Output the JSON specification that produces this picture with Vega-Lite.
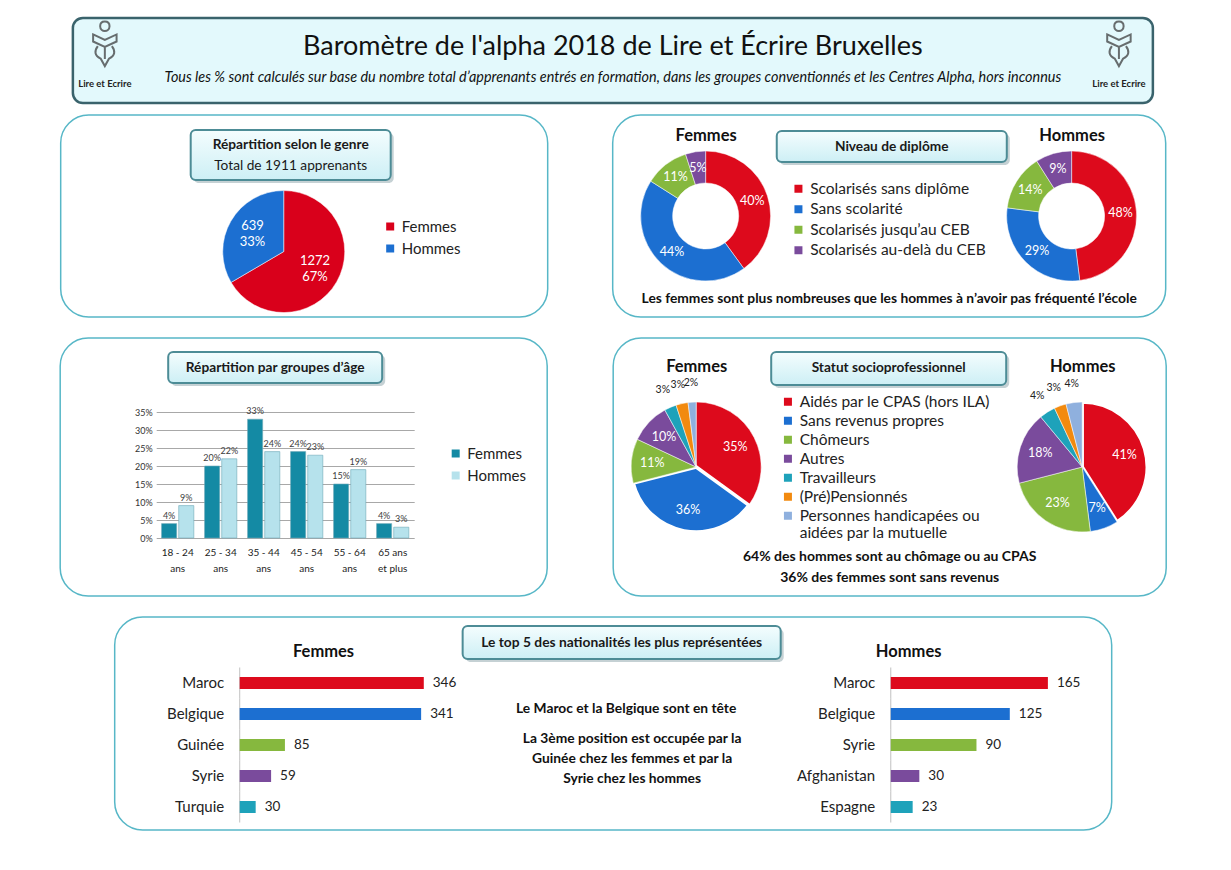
{
  "$schema": "https://vega.github.io/schema/vega-lite/v6.json",
  "background": "white",
  "padding": {"left": 59, "top": 16, "right": 5, "bottom": 5},
  "config": {
    "font": "Lato",
    "view": {"stroke": null},
    "legend": {"labelFontSize": 15.5, "labelColor": "#222222", "symbolType": "square", "symbolSize": 64, "rowPadding": 3.5, "labelLimit": 320, "symbolStrokeWidth": 0}
  },
  "resolve": {"scale": {"color": "independent"}, "legend": {"color": "independent"}},
  "spacing": 9,
  "center": true,
  "vconcat": [
    {
      "width": 1080,
      "height": 85,
      "view": {"fill": "#e3f9fc", "stroke": "#3a636c", "strokeWidth": 2.5, "cornerRadius": 10},
      "resolve": {"scale": {"x": "independent", "y": "independent"}},
      "layer": [
        {
          "data": {"values": [{"texte": "Baromètre de l'alpha 2018 de Lire et Écrire Bruxelles"}]},
          "mark": {"type": "text", "fontSize": 27, "color": "#111111"},
          "encoding": {
            "text": {"field": "texte"},
            "y": {"field": "texte", "type": "nominal", "axis": null, "scale": {"type": "point", "align": 0.341}}
          }
        },
        {
          "data": {"values": [{"texte": "Tous les % sont calculés sur base du nombre total d’apprenants entrés en formation, dans les groupes conventionnés et les Centres Alpha, hors inconnus"}]},
          "mark": {"type": "text", "fontSize": 14.4, "fontStyle": "italic", "color": "#111111"},
          "encoding": {
            "text": {"field": "texte"},
            "y": {"field": "texte", "type": "nominal", "axis": null, "scale": {"type": "point", "align": 0.706}}
          }
        },
        {
          "data": {"values": [{"logo": "Lire et Ecrire", "cote": "gauche"}, {"logo": "Lire et Ecrire", "cote": "droite"}]},
          "encoding": {
            "x": {"field": "cote", "type": "nominal", "sort": null, "axis": null, "scale": {"type": "point", "padding": 0.0325, "align": 0.485}}
          },
          "layer": [
            {
              "mark": {"type": "text", "fontSize": 9.5, "fontWeight": "bold", "color": "#222222"},
              "encoding": {
                "text": {"field": "logo"},
                "y": {"field": "logo", "type": "nominal", "axis": null, "scale": {"type": "point", "domain": ["icone", "Lire et Ecrire"], "padding": 0.59, "align": 0.587}}
              }
            },
            {
              "mark": {"type": "point", "filled": false, "stroke": "#333333", "strokeWidth": 2, "size": 2200, "shape": "M0,-1 C0.14,-1 0.2,-0.9 0.2,-0.8 C0.2,-0.68 0.1,-0.6 0,-0.6 C-0.1,-0.6 -0.2,-0.68 -0.2,-0.8 C-0.2,-0.9 -0.14,-1 0,-1 Z M-0.5,-0.45 L0,-0.22 L0.5,-0.45 L0.5,-0.15 L0,0.08 L-0.5,-0.15 Z M-0.3,0.05 C-0.45,0.25 -0.45,0.45 -0.18,0.58 L0,0.9 L0.18,0.58 C0.45,0.45 0.45,0.25 0.3,0.05 M0,0.08 L0,0.6"},
              "encoding": {
                "y": {"datum": "icone", "type": "nominal"}
              }
            }
          ]
        }
      ]
    },
    {
      "resolve": {"scale": {"color": "independent"}, "legend": {"color": "independent"}},
      "spacing": 19,
      "center": true,
      "vconcat": [
        {
          "resolve": {"scale": {"color": "independent"}, "legend": {"color": "independent"}},
          "spacing": 63,
          "hconcat": [
            {
              "width": 487,
              "height": 202,
              "view": {"fill": "white", "stroke": "#57b7c7", "strokeWidth": 1.5, "cornerRadius": 28},
              "resolve": {"scale": {"x": "independent", "y": "independent"}},
              "layer": [
                {
                  "data": {"values": [{"titre": "Répartition selon le genre"}]},
                  "mark": {"type": "rect", "fill": "#7f9aa0", "opacity": 0.45, "cornerRadius": 5},
                  "encoding": {
                    "x": {"field": "titre", "type": "nominal", "axis": null, "scale": {"paddingInner": 0, "paddingOuter": 0.7175, "align": 0.4635}},
                    "y": {"field": "titre", "type": "nominal", "axis": null, "scale": {"paddingInner": 0.3422, "paddingOuter": 1, "align": 0.1184}}
                  }
                },
                {
                  "data": {"values": [{"titre": "Répartition selon le genre", "sous_titre": "Total de 1911 apprenants"}]},
                  "encoding": {
                    "x": {"field": "titre", "type": "nominal", "axis": null, "scale": {"paddingInner": 0, "paddingOuter": 0.7175, "align": 0.453}},
                    "y": {"field": "titre", "type": "nominal", "axis": null, "scale": {"paddingInner": 0.3422, "paddingOuter": 1, "align": 0.0987}}
                  },
                  "layer": [
                    {"mark": {"type": "rect", "fill": {"gradient": "linear", "x1": 0, "y1": 0, "x2": 0, "y2": 1, "stops": [{"offset": 0, "color": "#f4fdfe"}, {"offset": 1, "color": "#cdeff5"}]}, "stroke": "#4d8c96", "strokeWidth": 2, "cornerRadius": 5}},
                    {"mark": {"type": "text", "fontSize": 13.7, "fontWeight": "bold", "color": "#1a1a1a", "dy": -10}, "encoding": {"text": {"field": "titre"}}},
                    {"mark": {"type": "text", "fontSize": 13.7, "color": "#1a1a1a", "dy": 11}, "encoding": {"text": {"field": "sous_titre"}}}
                  ]
                },
                {
                  "data": {"values": [{"sexe": "Femmes", "n": 1272, "pct": 0.67}, {"sexe": "Hommes", "n": 639, "pct": 0.33}]},
                  "encoding": {
                    "theta": {"field": "n", "type": "quantitative", "stack": true},
                    "order": {"field": "n", "type": "quantitative", "sort": "descending"},
                    "detail": {"field": "sexe"},
                    "x": {"datum": "genre", "type": "nominal", "axis": null, "scale": {"type": "point", "align": 0.458}},
                    "y": {"datum": "genre", "type": "nominal", "axis": null, "scale": {"type": "point", "align": 0.676}}
                  },
                  "layer": [
                    {
                      "mark": {"type": "arc", "outerRadius": 61, "stroke": "#ffffff", "strokeWidth": 0.5},
                      "encoding": {
                        "color": {"field": "sexe", "type": "nominal", "scale": {"domain": ["Femmes", "Hommes"], "range": ["#d9001b", "#1c6fd1"]}, "legend": {"title": null, "orient": "none", "legendX": 322, "legendY": 104, "rowPadding": 6, "labelFontSize": 15}}
                      }
                    },
                    {"mark": {"type": "text", "radius": 36, "dy": -8, "color": "white", "fontSize": 13}, "encoding": {"text": {"field": "n", "type": "quantitative", "format": "d"}}},
                    {"mark": {"type": "text", "radius": 36, "dy": 8, "color": "white", "fontSize": 13}, "encoding": {"text": {"field": "pct", "type": "quantitative", "format": ".0%"}}}
                  ]
                }
              ]
            },
            {
              "width": 553,
              "height": 202,
              "view": {"fill": "white", "stroke": "#57b7c7", "strokeWidth": 1.5, "cornerRadius": 28},
              "resolve": {"scale": {"x": "independent", "y": "independent"}},
              "layer": [
                {
                  "data": {"values": [{"titre": "Niveau de diplôme"}]},
                  "mark": {"type": "rect", "fill": "#7f9aa0", "opacity": 0.45, "cornerRadius": 5},
                  "encoding": {
                    "x": {"field": "titre", "type": "nominal", "axis": null, "scale": {"paddingInner": 0, "paddingOuter": 0.702, "align": 0.5173}},
                    "y": {"field": "titre", "type": "nominal", "axis": null, "scale": {"paddingInner": 0.6373, "paddingOuter": 1, "align": 0.1111}}
                  }
                },
                {
                  "data": {"values": [{"titre": "Niveau de diplôme"}]},
                  "encoding": {
                    "x": {"field": "titre", "type": "nominal", "axis": null, "scale": {"paddingInner": 0, "paddingOuter": 0.702, "align": 0.508}},
                    "y": {"field": "titre", "type": "nominal", "axis": null, "scale": {"paddingInner": 0.6373, "paddingOuter": 1, "align": 0.0936}}
                  },
                  "layer": [
                    {"mark": {"type": "rect", "fill": {"gradient": "linear", "x1": 0, "y1": 0, "x2": 0, "y2": 1, "stops": [{"offset": 0, "color": "#f4fdfe"}, {"offset": 1, "color": "#cdeff5"}]}, "stroke": "#4d8c96", "strokeWidth": 2, "cornerRadius": 5}},
                    {"mark": {"type": "text", "fontSize": 13.7, "fontWeight": "bold", "color": "#1a1a1a"}, "encoding": {"text": {"field": "titre"}}}
                  ]
                },
                {
                  "data": {"values": [{"note": "Les femmes sont plus nombreuses que les hommes à n’avoir pas fréquenté l’école"}]},
                  "mark": {"type": "text", "fontSize": 13.8, "fontWeight": "bold", "color": "#111111"},
                  "encoding": {
                    "text": {"field": "note"},
                    "y": {"field": "note", "type": "nominal", "axis": null, "scale": {"type": "point", "align": 0.911}}
                  }
                },
                {
                  "data": {"values": [
                    {"sexe": "Femmes", "categorie": "Scolarisés sans diplôme", "rang": 1, "pct": 0.40},
                    {"sexe": "Femmes", "categorie": "Sans scolarité", "rang": 2, "pct": 0.44},
                    {"sexe": "Femmes", "categorie": "Scolarisés jusqu’au CEB", "rang": 3, "pct": 0.11},
                    {"sexe": "Femmes", "categorie": "Scolarisés au-delà du CEB", "rang": 4, "pct": 0.05},
                    {"sexe": "Hommes", "categorie": "Scolarisés sans diplôme", "rang": 1, "pct": 0.48},
                    {"sexe": "Hommes", "categorie": "Sans scolarité", "rang": 2, "pct": 0.29},
                    {"sexe": "Hommes", "categorie": "Scolarisés jusqu’au CEB", "rang": 3, "pct": 0.14},
                    {"sexe": "Hommes", "categorie": "Scolarisés au-delà du CEB", "rang": 4, "pct": 0.09}
                  ]},
                  "encoding": {
                    "x": {"field": "sexe", "type": "nominal", "scale": {"type": "point", "domain": ["Femmes", "Hommes"], "padding": 0.2555, "align": 0.497}, "axis": {"orient": "top", "offset": -28, "title": null, "domain": false, "ticks": false, "labelPadding": 0, "labelFontSize": 16.5, "labelFontWeight": "bold", "labelColor": "#111111", "labelAngle": 0}},
                    "theta": {"field": "pct", "type": "quantitative", "stack": true},
                    "order": {"field": "rang", "type": "quantitative"},
                    "detail": {"field": "categorie"}
                  },
                  "layer": [
                    {
                      "transform": [{"filter": {"field": "sexe", "equal": "Femmes"}}],
                      "layer": [
                        {"mark": {"type": "arc", "outerRadius": 65, "innerRadius": 33, "stroke": "#ffffff", "strokeWidth": 0.5},
                         "encoding": {"color": {"field": "categorie", "type": "nominal", "scale": {"domain": ["Scolarisés sans diplôme", "Sans scolarité", "Scolarisés jusqu’au CEB", "Scolarisés au-delà du CEB"], "range": ["#dd0a1c", "#1c6fd1", "#86b83e", "#7a4b9c"]}, "legend": {"title": null, "orient": "none", "legendX": 178, "legendY": 66}}}},
                        {"mark": {"type": "text", "radius": 49, "color": "white", "fontSize": 12.5}, "encoding": {"text": {"field": "pct", "type": "quantitative", "format": ".0%"}}}
                      ]
                    },
                    {
                      "transform": [{"filter": {"field": "sexe", "equal": "Hommes"}}],
                      "layer": [
                        {"mark": {"type": "arc", "outerRadius": 65, "innerRadius": 33, "stroke": "#ffffff", "strokeWidth": 0.5},
                         "encoding": {"color": {"field": "categorie", "type": "nominal", "scale": {"domain": ["Scolarisés sans diplôme", "Sans scolarité", "Scolarisés jusqu’au CEB", "Scolarisés au-delà du CEB"], "range": ["#dd0a1c", "#1c6fd1", "#86b83e", "#7a4b9c"]}, "legend": {"title": null, "orient": "none", "legendX": 178, "legendY": 66}}}},
                        {"mark": {"type": "text", "radius": 49, "color": "white", "fontSize": 12.5}, "encoding": {"text": {"field": "pct", "type": "quantitative", "format": ".0%"}}}
                      ]
                    }
                  ]
                }
              ]
            }
          ]
        },
        {
          "resolve": {"scale": {"color": "independent"}, "legend": {"color": "independent"}},
          "spacing": 63,
          "hconcat": [
            {
              "width": 487,
              "height": 258,
              "view": {"fill": "white", "stroke": "#57b7c7", "strokeWidth": 1.5, "cornerRadius": 28},
              "resolve": {"scale": {"x": "independent", "y": "independent"}},
              "layer": [
                {
                  "data": {"values": [{"titre": "Répartition par groupes d’âge"}]},
                  "mark": {"type": "rect", "fill": "#7f9aa0", "opacity": 0.45, "cornerRadius": 5},
                  "encoding": {
                    "x": {"field": "titre", "type": "nominal", "axis": null, "scale": {"paddingInner": 0, "paddingOuter": 0.638, "align": 0.4066}},
                    "y": {"field": "titre", "type": "nominal", "axis": null, "scale": {"paddingInner": 0.7268, "paddingOuter": 1, "align": 0.0749}}
                  }
                },
                {
                  "data": {"values": [{"titre": "Répartition par groupes d’âge"}]},
                  "encoding": {
                    "x": {"field": "titre", "type": "nominal", "axis": null, "scale": {"paddingInner": 0, "paddingOuter": 0.638, "align": 0.3956}},
                    "y": {"field": "titre", "type": "nominal", "axis": null, "scale": {"paddingInner": 0.7268, "paddingOuter": 1, "align": 0.0617}}
                  },
                  "layer": [
                    {"mark": {"type": "rect", "fill": {"gradient": "linear", "x1": 0, "y1": 0, "x2": 0, "y2": 1, "stops": [{"offset": 0, "color": "#f4fdfe"}, {"offset": 1, "color": "#cdeff5"}]}, "stroke": "#4d8c96", "strokeWidth": 2, "cornerRadius": 5}},
                    {"mark": {"type": "text", "fontSize": 13.7, "fontWeight": "bold", "color": "#1a1a1a"}, "encoding": {"text": {"field": "titre"}}}
                  ]
                },
                {
                  "data": {"values": [
                    {"age": "18 - 24 ans", "sexe": "Femmes", "pct": 0.04},
                    {"age": "18 - 24 ans", "sexe": "Hommes", "pct": 0.09},
                    {"age": "25 - 34 ans", "sexe": "Femmes", "pct": 0.20},
                    {"age": "25 - 34 ans", "sexe": "Hommes", "pct": 0.22},
                    {"age": "35 - 44 ans", "sexe": "Femmes", "pct": 0.33},
                    {"age": "35 - 44 ans", "sexe": "Hommes", "pct": 0.24},
                    {"age": "45 - 54 ans", "sexe": "Femmes", "pct": 0.24},
                    {"age": "45 - 54 ans", "sexe": "Hommes", "pct": 0.23},
                    {"age": "55 - 64 ans", "sexe": "Femmes", "pct": 0.15},
                    {"age": "55 - 64 ans", "sexe": "Hommes", "pct": 0.19},
                    {"age": "65 ans et plus", "sexe": "Femmes", "pct": 0.04},
                    {"age": "65 ans et plus", "sexe": "Hommes", "pct": 0.03}
                  ]},
                  "encoding": {
                    "x": {"field": "age", "type": "nominal", "sort": null, "scale": {"range": [96, 354], "paddingInner": 0.25, "paddingOuter": 0.125}, "axis": {"orient": "bottom", "offset": -58, "title": null, "domain": false, "ticks": false, "labelPadding": 9, "labelAngle": 0, "labelFontSize": 10, "labelLineHeight": 16, "labelColor": "#222222", "labelExpr": "datum.label == '65 ans et plus' ? ['65 ans', 'et plus'] : [replace(datum.label, ' ans', ''), 'ans']"}},
                    "xOffset": {"field": "sexe", "type": "nominal", "scale": {"paddingInner": 0.12}},
                    "y": {"field": "pct", "type": "quantitative", "scale": {"domain": [-0.1611, 0.5556], "nice": false, "zero": false}, "axis": {"orient": "left", "offset": -96, "title": null, "values": [0, 0.05, 0.1, 0.15, 0.2, 0.25, 0.3, 0.35], "format": ".0%", "grid": false, "domain": false, "tickSize": -258, "tickColor": "#a8a8a8", "tickWidth": 1, "labelPadding": 262, "labelFontSize": 9, "labelColor": "#333333"}}
                  },
                  "layer": [
                    {"mark": {"type": "bar", "stroke": "#6fa9b9", "strokeWidth": 0.6},
                     "encoding": {"color": {"field": "sexe", "type": "nominal", "scale": {"domain": ["Femmes", "Hommes"], "range": ["#148aa4", "#b6e2ec"]}, "legend": {"title": null, "orient": "none", "legendX": 388, "legendY": 108, "rowPadding": 6, "labelFontSize": 15}}}},
                    {"mark": {"type": "text", "baseline": "bottom", "dy": -3, "fontSize": 9, "color": "#404040"}, "encoding": {"text": {"field": "pct", "type": "quantitative", "format": ".0%"}}}
                  ]
                }
              ]
            },
            {
              "width": 553,
              "height": 258,
              "view": {"fill": "white", "stroke": "#57b7c7", "strokeWidth": 1.5, "cornerRadius": 28},
              "resolve": {"scale": {"x": "independent", "y": "independent"}},
              "layer": [
                {
                  "data": {"values": [{"titre": "Statut socioprofessionnel"}]},
                  "mark": {"type": "rect", "fill": "#7f9aa0", "opacity": 0.45, "cornerRadius": 5},
                  "encoding": {
                    "x": {"field": "titre", "type": "nominal", "axis": null, "scale": {"paddingInner": 0, "paddingOuter": 0.6766, "align": 0.5063}},
                    "y": {"field": "titre", "type": "nominal", "axis": null, "scale": {"paddingInner": 0.7067, "paddingOuter": 1, "align": 0.0755}}
                  }
                },
                {
                  "data": {"values": [{"titre": "Statut socioprofessionnel"}]},
                  "encoding": {
                    "x": {"field": "titre", "type": "nominal", "axis": null, "scale": {"paddingInner": 0, "paddingOuter": 0.6766, "align": 0.4969}},
                    "y": {"field": "titre", "type": "nominal", "axis": null, "scale": {"paddingInner": 0.7067, "paddingOuter": 1, "align": 0.0622}}
                  },
                  "layer": [
                    {"mark": {"type": "rect", "fill": {"gradient": "linear", "x1": 0, "y1": 0, "x2": 0, "y2": 1, "stops": [{"offset": 0, "color": "#f4fdfe"}, {"offset": 1, "color": "#cdeff5"}]}, "stroke": "#4d8c96", "strokeWidth": 2, "cornerRadius": 5}},
                    {"mark": {"type": "text", "fontSize": 13.7, "fontWeight": "bold", "color": "#1a1a1a"}, "encoding": {"text": {"field": "titre"}}}
                  ]
                },
                {
                  "data": {"values": [{"note": "64% des hommes sont au chômage ou au CPAS\n36% des femmes sont sans revenus"}]},
                  "mark": {"type": "text", "fontSize": 14, "fontWeight": "bold", "color": "#111111", "lineBreak": "\n", "lineHeight": 21},
                  "encoding": {
                    "text": {"field": "note"},
                    "y": {"field": "note", "type": "nominal", "axis": null, "scale": {"type": "point", "align": 0.849}}
                  }
                },
                {
                  "data": {"values": [
                    {"sexe": "Femmes", "categorie": "Aidés par le CPAS (hors ILA)", "rang": 1, "pct": 0.35},
                    {"sexe": "Femmes", "categorie": "Sans revenus propres", "rang": 2, "pct": 0.36},
                    {"sexe": "Femmes", "categorie": "Chômeurs", "rang": 3, "pct": 0.11},
                    {"sexe": "Femmes", "categorie": "Autres", "rang": 4, "pct": 0.10},
                    {"sexe": "Femmes", "categorie": "Travailleurs", "rang": 5, "pct": 0.03},
                    {"sexe": "Femmes", "categorie": "(Pré)Pensionnés", "rang": 6, "pct": 0.03},
                    {"sexe": "Femmes", "categorie": "Personnes handicapées ou aidées par la mutuelle", "rang": 7, "pct": 0.02},
                    {"sexe": "Hommes", "categorie": "Aidés par le CPAS (hors ILA)", "rang": 1, "pct": 0.41},
                    {"sexe": "Hommes", "categorie": "Sans revenus propres", "rang": 2, "pct": 0.07},
                    {"sexe": "Hommes", "categorie": "Chômeurs", "rang": 3, "pct": 0.23},
                    {"sexe": "Hommes", "categorie": "Autres", "rang": 4, "pct": 0.18},
                    {"sexe": "Hommes", "categorie": "Travailleurs", "rang": 5, "pct": 0.04},
                    {"sexe": "Hommes", "categorie": "(Pré)Pensionnés", "rang": 6, "pct": 0.03},
                    {"sexe": "Hommes", "categorie": "Personnes handicapées ou aidées par la mutuelle", "rang": 7, "pct": 0.04}
                  ]},
                  "encoding": {
                    "x": {"field": "sexe", "type": "nominal", "scale": {"type": "point", "domain": ["Femmes", "Hommes"], "padding": 0.2163, "align": 0.497}, "axis": {"orient": "top", "offset": -36, "title": null, "domain": false, "ticks": false, "labelPadding": 0, "labelFontSize": 16.5, "labelFontWeight": "bold", "labelColor": "#111111", "labelAngle": 0}},
                    "theta": {"field": "pct", "type": "quantitative", "stack": true},
                    "order": {"field": "rang", "type": "quantitative"},
                    "detail": {"field": "categorie"}
                  },
                  "layer": [
                    {
                      "transform": [{"filter": {"field": "sexe", "equal": "Femmes"}}],
                      "layer": [
                        {"mark": {"type": "arc", "outerRadius": 65, "stroke": "#ffffff"},
                         "encoding": {
                           "strokeWidth": {"condition": {"test": "datum.rang == 2", "value": 3.5}, "value": 0.5},
                           "color": {"field": "categorie", "type": "nominal", "scale": {"domain": ["Aidés par le CPAS (hors ILA)", "Sans revenus propres", "Chômeurs", "Autres", "Travailleurs", "(Pré)Pensionnés", "Personnes handicapées ou aidées par la mutuelle"], "range": ["#dd0a1c", "#1c6fd1", "#86b83e", "#7a4b9c", "#1ea2ba", "#f28a0f", "#8fb0de"]}, "legend": {"title": null, "orient": "none", "legendX": 167, "legendY": 56, "rowPadding": 2, "labelExpr": "datum.label == 'Personnes handicapées ou aidées par la mutuelle' ? ['Personnes handicapées ou', 'aidées par la mutuelle'] : datum.label"}}}},
                        {"mark": {"type": "text", "radius": 44, "color": "white", "fontSize": 12.5}, "encoding": {"text": {"condition": {"test": "datum.pct >= 0.05", "field": "pct", "type": "quantitative", "format": ".0%"}, "value": ""}}},
                        {"mark": {"type": "text", "radius": 84, "color": "#222222", "fontSize": 10.5}, "encoding": {"text": {"condition": {"test": "datum.pct < 0.05", "field": "pct", "type": "quantitative", "format": ".0%"}, "value": ""}}}
                      ]
                    },
                    {
                      "transform": [{"filter": {"field": "sexe", "equal": "Hommes"}}],
                      "layer": [
                        {"mark": {"type": "arc", "outerRadius": 65, "stroke": "#ffffff"},
                         "encoding": {
                           "strokeWidth": {"condition": {"test": "datum.rang == 1", "value": 3.5}, "value": 0.5},
                           "color": {"field": "categorie", "type": "nominal", "scale": {"domain": ["Aidés par le CPAS (hors ILA)", "Sans revenus propres", "Chômeurs", "Autres", "Travailleurs", "(Pré)Pensionnés", "Personnes handicapées ou aidées par la mutuelle"], "range": ["#dd0a1c", "#1c6fd1", "#86b83e", "#7a4b9c", "#1ea2ba", "#f28a0f", "#8fb0de"]}, "legend": {"title": null, "orient": "none", "legendX": 167, "legendY": 56, "rowPadding": 2, "labelExpr": "datum.label == 'Personnes handicapées ou aidées par la mutuelle' ? ['Personnes handicapées ou', 'aidées par la mutuelle'] : datum.label"}}}},
                        {"mark": {"type": "text", "radius": 44, "color": "white", "fontSize": 12.5}, "encoding": {"text": {"condition": {"test": "datum.pct >= 0.05", "field": "pct", "type": "quantitative", "format": ".0%"}, "value": ""}}},
                        {"mark": {"type": "text", "radius": 84, "color": "#222222", "fontSize": 10.5}, "encoding": {"text": {"condition": {"test": "datum.pct < 0.05", "field": "pct", "type": "quantitative", "format": ".0%"}, "value": ""}}}
                      ]
                    }
                  ]
                }
              ]
            }
          ]
        },
        {
          "width": 997,
          "height": 213,
          "view": {"fill": "white", "stroke": "#57b7c7", "strokeWidth": 1.5, "cornerRadius": 28},
          "resolve": {"scale": {"x": "independent", "y": "independent"}},
          "layer": [
            {
              "data": {"values": [{"titre": "Le top 5 des nationalités les plus représentées"}]},
              "mark": {"type": "rect", "fill": "#7f9aa0", "opacity": 0.45, "cornerRadius": 5},
              "encoding": {
                "x": {"field": "titre", "type": "nominal", "axis": null, "scale": {"paddingInner": 0.0631, "paddingOuter": 1, "align": 0.5169}},
                "y": {"field": "titre", "type": "nominal", "axis": null, "scale": {"paddingInner": 0.6333, "paddingOuter": 1, "align": 0.0667}}
              }
            },
            {
              "data": {"values": [{"titre": "Le top 5 des nationalités les plus représentées"}]},
              "encoding": {
                "x": {"field": "titre", "type": "nominal", "axis": null, "scale": {"paddingInner": 0.0631, "paddingOuter": 1, "align": 0.5125}},
                "y": {"field": "titre", "type": "nominal", "axis": null, "scale": {"paddingInner": 0.6333, "paddingOuter": 1, "align": 0.05}}
              },
              "layer": [
                {"mark": {"type": "rect", "fill": {"gradient": "linear", "x1": 0, "y1": 0, "x2": 0, "y2": 1, "stops": [{"offset": 0, "color": "#f4fdfe"}, {"offset": 1, "color": "#cdeff5"}]}, "stroke": "#4d8c96", "strokeWidth": 2, "cornerRadius": 5}},
                {"mark": {"type": "text", "fontSize": 13.8, "fontWeight": "bold", "color": "#1a1a1a"}, "encoding": {"text": {"field": "titre"}}}
              ]
            },
            {
              "data": {"values": [{"sexe": "Femmes"}, {"sexe": "Hommes"}]},
              "mark": {"type": "text", "fontSize": 16.5, "fontWeight": "bold", "color": "#111111"},
              "encoding": {
                "text": {"field": "sexe"},
                "x": {"field": "sexe", "type": "nominal", "axis": null, "scale": {"type": "point", "padding": 0.352, "align": 0.507}},
                "y": {"datum": "titres", "type": "nominal", "axis": null, "scale": {"type": "point", "align": 0.165}}
              }
            },
            {
              "data": {"values": [{"note": "Le Maroc et la Belgique sont en tête"}]},
              "mark": {"type": "text", "fontSize": 13.8, "fontWeight": "bold", "color": "#111111"},
              "encoding": {
                "text": {"field": "note"},
                "x": {"datum": "notes", "type": "nominal", "axis": null, "scale": {"type": "point", "align": 0.513}},
                "y": {"field": "note", "type": "nominal", "axis": null, "scale": {"type": "point", "align": 0.432}}
              }
            },
            {
              "data": {"values": [{"note": "La 3ème position est occupée par la\nGuinée chez les femmes et par la\nSyrie chez les hommes"}]},
              "mark": {"type": "text", "fontSize": 13.8, "fontWeight": "bold", "color": "#111111", "lineBreak": "\n", "lineHeight": 20},
              "encoding": {
                "text": {"field": "note"},
                "x": {"datum": "notes", "type": "nominal", "axis": null, "scale": {"type": "point", "align": 0.519}},
                "y": {"field": "note", "type": "nominal", "axis": null, "scale": {"type": "point", "align": 0.573}}
              }
            },
            {
              "data": {"values": [
                {"pays": "Maroc", "n": 346, "rang": 1},
                {"pays": "Belgique", "n": 341, "rang": 2},
                {"pays": "Guinée", "n": 85, "rang": 3},
                {"pays": "Syrie", "n": 59, "rang": 4},
                {"pays": "Turquie", "n": 30, "rang": 5}
              ]},
              "encoding": {
                "y": {"field": "pays", "type": "nominal", "sort": {"field": "n", "order": "descending"}, "scale": {"range": [50.5, 205.5], "paddingInner": 0.613, "paddingOuter": 0.3065}, "axis": {"orient": "left", "offset": -125, "title": null, "domain": false, "ticks": false, "labelPadding": 16, "labelFontSize": 15, "labelColor": "#222222"}},
                "x": {"field": "n", "type": "quantitative", "scale": {"domain": [-235, 1639], "nice": false, "zero": false}, "axis": null}
              },
              "layer": [
                {"mark": {"type": "tick", "orient": "vertical", "size": 31, "thickness": 1, "color": "#a6a6a6"}, "encoding": {"x": {"datum": 0, "type": "quantitative"}}},
                {"mark": {"type": "bar"}, "encoding": {"color": {"field": "rang", "type": "ordinal", "scale": {"domain": [1, 2, 3, 4, 5], "range": ["#dd0a1c", "#1c6fd1", "#86b83e", "#7a4b9c", "#1ea2ba"]}, "legend": null}}},
                {"mark": {"type": "text", "align": "left", "dx": 9, "fontSize": 13.5, "color": "#222222"}, "encoding": {"text": {"field": "n", "type": "quantitative", "format": "d"}}}
              ]
            },
            {
              "data": {"values": [
                {"pays": "Maroc", "n": 165, "rang": 1},
                {"pays": "Belgique", "n": 125, "rang": 2},
                {"pays": "Syrie", "n": 90, "rang": 3},
                {"pays": "Afghanistan", "n": 30, "rang": 4},
                {"pays": "Espagne", "n": 23, "rang": 5}
              ]},
              "encoding": {
                "y": {"field": "pays", "type": "nominal", "sort": {"field": "n", "order": "descending"}, "scale": {"range": [50.5, 205.5], "paddingInner": 0.613, "paddingOuter": 0.3065}, "axis": {"orient": "left", "offset": -776, "title": null, "domain": false, "ticks": false, "labelPadding": 16, "labelFontSize": 15, "labelColor": "#222222"}},
                "x": {"field": "n", "type": "quantitative", "scale": {"domain": [-815, 232], "nice": false, "zero": false}, "axis": null}
              },
              "layer": [
                {"mark": {"type": "tick", "orient": "vertical", "size": 31, "thickness": 1, "color": "#a6a6a6"}, "encoding": {"x": {"datum": 0, "type": "quantitative"}}},
                {"mark": {"type": "bar"}, "encoding": {"color": {"field": "rang", "type": "ordinal", "scale": {"domain": [1, 2, 3, 4, 5], "range": ["#dd0a1c", "#1c6fd1", "#86b83e", "#7a4b9c", "#1ea2ba"]}, "legend": null}}},
                {"mark": {"type": "text", "align": "left", "dx": 9, "fontSize": 13.5, "color": "#222222"}, "encoding": {"text": {"field": "n", "type": "quantitative", "format": "d"}}}
              ]
            }
          ]
        }
      ]
    }
  ]
}
